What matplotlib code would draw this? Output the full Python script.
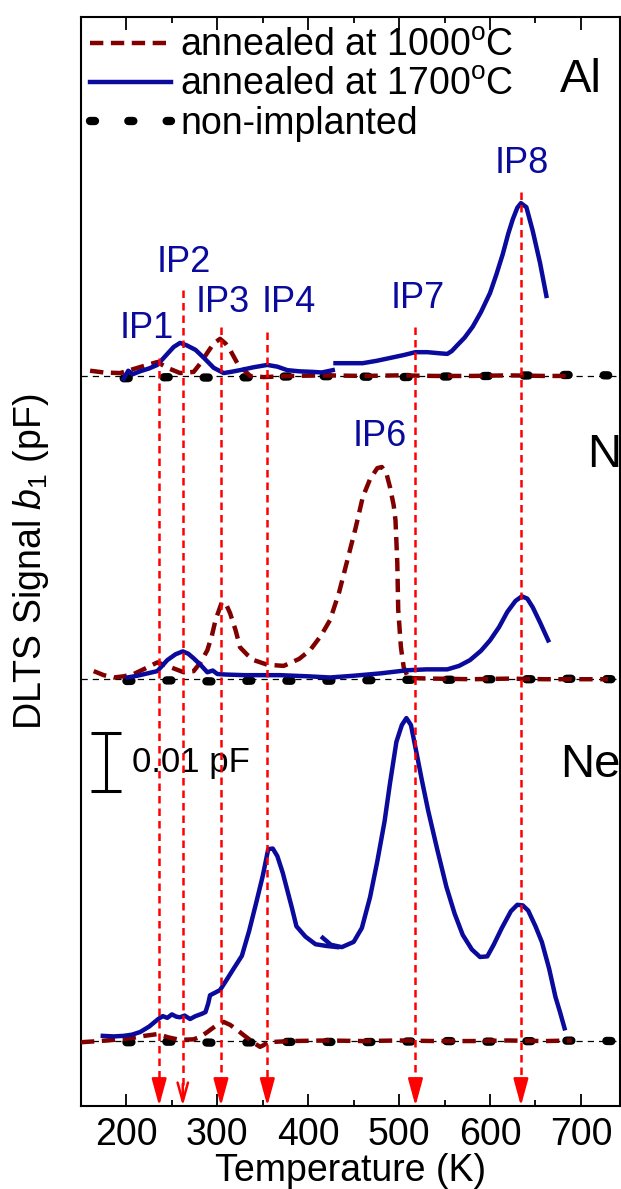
import matplotlib
matplotlib.use("Agg")
import matplotlib.pyplot as plt
from matplotlib.ticker import MultipleLocator

plt.rcParams["font.family"] = ["Liberation Sans", "DejaVu Sans"]
plt.rcParams["mathtext.fontset"] = "custom"
plt.rcParams["mathtext.rm"] = "Liberation Sans"
plt.rcParams["mathtext.it"] = "Liberation Sans:italic"

# signal in units of 0.001 pF, relative to each panel baseline
# --- Al implanted ---
al_1700_t1 = [197, 202, 207, 215, 225, 234, 245, 252, 259, 266, 276, 286, 296, 307, 315, 325,
              340, 355, 366, 377, 390, 405, 415, 427]
al_1700_s1 = [-0.5, 0.9, 0.3, 0.8, 1.3, 1.9, 3.8, 5.0, 5.7, 5.3, 4.5, 3.0, 1.4, 0.5, 0.7, 1.0,
              1.5, 1.9, 1.6, 1.0, 0.8, 0.7, 0.6, 1.0]
al_1700_t2 = [430, 445, 460, 475, 490, 505, 518, 531, 545, 553, 558, 564, 572, 581, 590, 600,
              607, 614, 620, 625, 630, 634, 640, 647, 655, 662]
al_1700_s2 = [2.2, 2.2, 2.2, 2.6, 3.1, 3.6, 4.1, 4.1, 3.9, 3.8, 4.3, 5.3, 6.6, 8.5, 11.0, 14.3,
              17.5, 21.0, 24.5, 27.0, 29.0, 29.8, 29.1, 25.0, 19.5, 13.8]
al_1000_t = [160, 175, 193, 208, 223, 234, 245, 259, 274, 282, 289, 296, 303, 309, 314, 322,
             336, 351, 380, 420, 460, 500, 540, 580, 620, 660, 690]
al_1000_s = [0.9, 0.6, 0.5, 1.2, 1.9, 2.4, 1.4, 0.5, 0.7, 2.3, 4.0, 5.6, 6.4, 5.6, 4.5, 2.2,
             0.0, -0.2, 0.0, 0.1, 0.0, 0.1, 0.0, 0.0, 0.1, 0.0, 0.0]
al_ref_t = [197, 250, 300, 350, 400, 450, 500, 550, 600, 650, 700, 730]
al_ref_s = [-0.4, -0.2, -0.3, -0.2, 0.0, -0.1, -0.2, -0.1, 0.0, 0.1, 0.2, 0.1]

# --- N implanted ---
n_1700_t = [201, 212, 223, 234, 245, 254, 262, 268, 274, 282, 289, 295, 300, 310, 330, 369,
            400, 424, 450, 479, 509, 530, 553, 566, 578, 590, 600, 610, 619, 628, 635, 641,
            647, 655, 664]
n_1700_s = [0.3, 0.6, 1.0, 1.4, 3.3, 4.3, 4.8, 4.4, 3.6, 2.4, 1.2, 1.5, 0.9, 0.8, 0.7, 0.7,
            0.5, 0.3, 0.6, 1.0, 1.55, 1.7, 1.7, 2.3, 3.3, 4.9, 6.7, 9.0, 11.6, 13.5, 14.3, 13.9,
            12.4, 9.8, 6.7]
n_1000_t = [164, 175, 186, 197, 208, 220, 234, 248, 263, 274, 282, 289, 294, 298, 305, 310,
            314, 320, 325, 333, 340, 355, 373, 390, 402, 414, 424, 434, 443, 452, 460, 468,
            476, 481, 486, 490, 494, 496, 498, 499, 502, 505, 510, 540, 580, 620, 660, 700, 730]
n_1000_s = [1.4, 0.7, 0.3, 0.5, 0.9, 1.8, 2.9, 2.1, 1.2, 1.4, 3.0, 5.0, 7.5, 10.2, 13.3, 12.8,
            11.4, 8.5, 5.5, 4.2, 3.3, 2.5, 2.3, 3.5, 5.0, 7.5, 10.2, 15.0, 20.5, 26.0, 31.4, 34.5,
            36.4, 36.6, 35.5, 33.1, 30.0, 27.4, 20.0, 12.0, 5.5, 2.1, 0.2, 0.1, 0.0, 0.1, 0.0, 0.0, 0.0]
n_ref_t = [200, 250, 300, 350, 400, 450, 500, 550, 600, 650, 700, 735]
n_ref_s = [-0.3, -0.2, -0.4, -0.2, -0.3, -0.2, -0.1, -0.1, 0.0, 0.0, 0.1, 0.0]

# --- Ne implanted ---
ne_1700_t1 = [174, 186, 197, 206, 215, 225, 235, 240, 245, 250, 255, 259, 264, 270, 276, 283,
              287, 290, 292, 297, 303, 310, 318, 327, 335, 343, 350, 356, 361, 366, 372, 377,
              382, 387, 397, 408, 420, 432]
ne_1700_s1 = [0.9, 0.8, 0.9, 1.1, 1.55, 2.5, 3.8, 4.3, 4.0, 4.6, 4.2, 4.1, 4.4, 3.8, 4.3, 4.7,
              5.0, 6.5, 7.9, 8.3, 8.8, 10.5, 12.5, 14.7, 19.0, 24.0, 28.5, 33.1, 33.2, 31.9, 29.0, 26.0,
              23.0, 19.8, 18.0, 16.7, 16.4, 16.2]
ne_1700_t2 = [416, 425, 437, 450, 459, 468, 476, 484, 490, 497, 503, 508, 513, 519, 525, 532,
              542, 552, 561, 570, 580, 589, 597, 604, 613, 623, 630, 636, 642, 650, 657, 665,
              672, 677, 682]
ne_1700_s2 = [17.8, 16.6, 16.2, 17.1, 19.5, 24.8, 31.0, 37.9, 44.5, 51.6, 54.5, 55.7, 54.5, 49.8, 45.0, 39.7,
              33.0, 26.6, 22.0, 18.3, 15.8, 14.5, 14.6, 16.6, 19.5, 22.4, 23.5, 23.4, 22.5, 19.8, 17.1, 12.5,
              7.6, 5.0, 2.2]
ne_1000_t = [150, 170, 186, 205, 220, 234, 247, 259, 274, 282, 289, 298, 307, 314, 322, 330,
             336, 342, 347, 351, 355, 380, 420, 460, 500, 540, 580, 620, 660, 690]
ne_1000_s = [-0.2, 0.0, 0.2, 0.5, 0.9, 1.2, 0.6, 0.2, 0.3, 0.8, 1.55, 2.6, 3.3, 2.8, 1.9, 0.9,
             0.2, -0.5, -1.0, -0.7, -0.2, 0.0, 0.1, 0.0, 0.1, 0.0, 0.0, 0.1, 0.0, 0.1]
ne_ref_t = [200, 250, 300, 350, 400, 450, 500, 550, 600, 650, 700, 735]
ne_ref_s = [-0.2, -0.1, -0.3, -0.2, -0.1, -0.2, -0.1, 0.0, -0.1, 0.0, 0.1, 0.0]

# peak positions (K) marked by arrows
peak_names = ["IP1", "IP2", "IP3", "IP4", "IP7", "IP8"]
peak_temps = [236, 262, 304, 355, 518, 634]

AL_OFF = 125.9
N_OFF = 73.6
NE_OFF = 11.2

C_1000 = "#800000"
C_1700 = "#0a0a9c"
C_ARROW = "#ff0000"

REF_STYLE = dict(color="black", lw=6, ls=(0, (0.6, 4.2)), dash_capstyle="round")
STYLE_1000 = dict(color=C_1000, lw=3.2, ls=(0, (3, 1.7)))
STYLE_1700 = dict(color=C_1700, lw=3.2)


def shift(values, offset):
    return [v + offset for v in values]


def draw_panel(ax, ref_t, ref_s, t1000, s1000, blue_segments, offset):
    ax.axhline(offset, color="black", lw=0.9, ls=(0, (5, 4)), zorder=1)
    ax.plot(ref_t, shift(ref_s, offset), zorder=2, **REF_STYLE)
    ax.plot(t1000, shift(s1000, offset), zorder=3, **STYLE_1000)
    for t, s in blue_segments:
        ax.plot(t, shift(s, offset), zorder=4, **STYLE_1700)


fig = plt.figure(figsize=(6.21, 11.89), dpi=100)
ax = fig.add_axes([0.1304, 0.0698, 0.8680, 0.9159])

draw_panel(ax, al_ref_t, al_ref_s, al_1000_t, al_1000_s,
           [(al_1700_t1, al_1700_s1), (al_1700_t2, al_1700_s2)], AL_OFF)
draw_panel(ax, n_ref_t, n_ref_s, n_1000_t, n_1000_s,
           [(n_1700_t, n_1700_s)], N_OFF)
draw_panel(ax, ne_ref_t, ne_ref_s, ne_1000_t, ne_1000_s,
           [(ne_1700_t1, ne_1700_s1), (ne_1700_t2, ne_1700_s2)], NE_OFF)

ax.set_xlim(150, 743)
ax.set_ylim(0, 187.8)

# arrows marking the peaks
line_tops = [129.0, 140.7, 134.3, 133.4, 134.3, 157.6]
for i, temp in enumerate(peak_temps):
    ax.plot([temp, temp], [line_tops[i], 3.0], color=C_ARROW, lw=1.8, ls=(0, (3, 2)), zorder=6)
    if peak_names[i] == "IP2":
        style = "->,head_length=0.9,head_width=0.25"
    else:
        style = "-|>,head_length=1.1,head_width=0.3"
    ax.annotate("", xy=(temp, 0), xytext=(temp, 3.8),
                arrowprops=dict(arrowstyle=style, color=C_ARROW, lw=1.8,
                                shrinkA=0, shrinkB=0, mutation_scale=15), zorder=6)

label_pos = {"IP1": (222, 134.0), "IP2": (263, 145.5), "IP3": (306, 138.6),
             "IP4": (379, 138.6), "IP7": (520, 139.3), "IP8": (635, 162.6),
             "IP6": (479, 115.4)}
for name, (tx, ty) in label_pos.items():
    ax.text(tx, ty, name, color=C_1700, fontsize=26, ha="center", va="center", zorder=7)

ax.text(700, 176.9, "Al", fontsize=34, ha="center", va="center")
ax.text(726, 112.2, "N", fontsize=34, ha="center", va="center")
ax.text(710, 58.8, "Ne", fontsize=34, ha="center", va="center")

# 0.01 pF scale bar
ax.errorbar([177], [59.3], yerr=[5.0], color="black", lw=2.2, capsize=11, capthick=2.2)
ax.text(206, 59.3, "0.01 pF", fontsize=25, ha="left", va="center")

# legend proxies
h1, = ax.plot([], [], **STYLE_1000)
h2, = ax.plot([], [], **STYLE_1700)
h3, = ax.plot([], [], color="black", lw=6, ls=(0, (0.6, 4.0)), dash_capstyle="round")
ax.legend([h1, h2, h3],
          ["annealed at 1000$^{\\rm o}$C", "annealed at 1700$^{\\rm o}$C", "non-implanted"],
          loc="upper left", bbox_to_anchor=(0.010, 0.993),
          frameon=False, fontsize=27, handlelength=2.15, handletextpad=0.25,
          labelspacing=0.08, borderaxespad=0.0, borderpad=0.1)

ax.xaxis.set_major_locator(MultipleLocator(100))
ax.xaxis.set_minor_locator(MultipleLocator(50))
ax.tick_params(axis="x", which="major", direction="in", length=9, width=1.3,
               top=True, labelsize=27, pad=8)
ax.tick_params(axis="x", which="minor", direction="in", length=4.5, width=1.3, top=True)
ax.set_yticks([])
for sp in ax.spines.values():
    sp.set_linewidth(1.5)

ax.set_xlabel("Temperature (K)", fontsize=27, labelpad=0)
ax.set_ylabel("DLTS Signal $b_1$ (pF)", fontsize=27)
ax.yaxis.set_label_coords(-0.056, 0.5)

fig.savefig("out.png", dpi=100)
